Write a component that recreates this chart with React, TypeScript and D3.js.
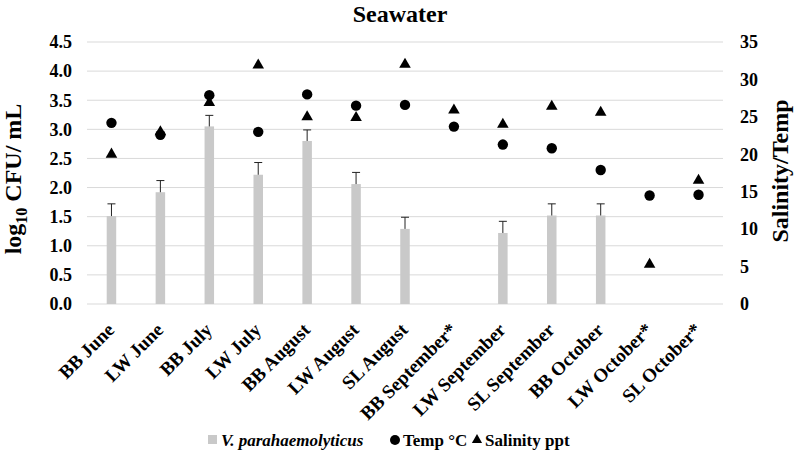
import React from "react";
import * as d3 from "d3";

const categories = [
  "BB June", "LW June", "BB July", "LW July", "BB August", "LW August", "SL August",
  "BB September*", "LW September", "SL September", "BB October", "LW October*", "SL October*",
];
const vpValues: (number | null)[] = [1.51, 1.92, 3.05, 2.22, 2.8, 2.06, 1.29, null, 1.22, 1.52, 1.52, null, null];
const vpErrors: (number | null)[] = [0.21, 0.2, 0.19, 0.21, 0.19, 0.2, 0.2, null, 0.2, 0.2, 0.2, null, null];
const tempValues = [24.2, 22.6, 27.9, 23.0, 28.0, 26.5, 26.6, 23.7, 21.3, 20.8, 17.9, 14.5, 14.6];
const salinityValues = [20.0, 23.0, 26.9, 31.9, 25.0, 24.9, 32.0, 25.9, 24.0, 26.4, 25.6, 5.3, 16.5];
const leftTicks = [0, 0.5, 1, 1.5, 2, 2.5, 3, 3.5, 4, 4.5];
const rightTicks = [0, 5, 10, 15, 20, 25, 30, 35];

const W = 800, H = 461;
const plot = { left: 87, right: 723, top: 42, bottom: 304 };
const FONT = "Liberation Serif";

export default function App() {
  const x = d3.scaleBand<string>().domain(categories).range([plot.left, plot.right]).padding(0);
  const yL = d3.scaleLinear().domain([0, 4.5]).range([plot.bottom, plot.top]);
  const yR = d3.scaleLinear().domain([0, 35]).range([plot.bottom, plot.top]);
  const cx = (c: string) => (x(c) as number) + x.bandwidth() / 2;
  const barW = 9.5;
  const tri = d3.symbol().type(d3.symbolTriangle).size(58)();
  const triSmall = d3.symbol().type(d3.symbolTriangle).size(45)();
  const midY = (plot.top + plot.bottom) / 2;

  return (
    <svg width={W} height={H} style={{ position: "absolute", left: 0, top: 0, background: "#fff", fontFamily: FONT }}>
      <rect width={W} height={H} fill="#fff" />
      <text x={400} y={22} textAnchor="middle" style={{ fontFamily: FONT }} fontWeight="bold" fontSize={24}>Seawater</text>

      {leftTicks.map((t) => (
        <g key={"g" + t}>
          <line x1={plot.left} x2={plot.right} y1={yL(t)} y2={yL(t)} stroke="#d9d9d9" strokeWidth={1} />
          <text x={72} y={yL(t)} dy="0.35em" textAnchor="end" style={{ fontFamily: FONT }} fontWeight="bold" fontSize={18}>{t.toFixed(1)}</text>
        </g>
      ))}
      {rightTicks.map((t) => (
        <text key={"r" + t} x={740} y={yR(t)} dy="0.35em" textAnchor="start" style={{ fontFamily: FONT }} fontWeight="bold" fontSize={18}>{t}</text>
      ))}

      <text transform={`translate(21,${midY + 6}) rotate(-90)`} textAnchor="middle" style={{ fontFamily: FONT }} fontWeight="bold" fontSize={24}>
        log<tspan fontSize={16} dy={6}>10</tspan><tspan dy={-6}>{"  CFU/ mL"}</tspan>
      </text>
      <text transform={`translate(788,${midY - 2}) rotate(-90)`} textAnchor="middle" style={{ fontFamily: FONT }} fontWeight="bold" fontSize={24}>Salinity/Temp</text>

      {categories.map((c, i) =>
        vpValues[i] == null ? null : (
          <g key={"b" + c}>
            <rect x={cx(c) - barW / 2} y={yL(vpValues[i] as number)} width={barW} height={plot.bottom - yL(vpValues[i] as number)} fill="#c9c9c9" />
            <line x1={cx(c)} x2={cx(c)} y1={yL(vpValues[i] as number)} y2={yL((vpValues[i] as number) + (vpErrors[i] as number))} stroke="#222" strokeWidth={1} />
            <line x1={cx(c) - 4} x2={cx(c) + 4} y1={yL((vpValues[i] as number) + (vpErrors[i] as number))} y2={yL((vpValues[i] as number) + (vpErrors[i] as number))} stroke="#222" strokeWidth={1} />
          </g>
        )
      )}

      {categories.map((c, i) => (
        <path key={"s" + c} d={tri as string} transform={`translate(${cx(c)},${yR(salinityValues[i])})`} fill="#000" />
      ))}
      {categories.map((c, i) => (
        <circle key={"t" + c} cx={cx(c)} cy={yR(tempValues[i])} r={5.2} fill="#000" />
      ))}

      {categories.map((c) => (
        <text key={"l" + c} transform={`translate(${cx(c) + 4},${plot.bottom + 27}) rotate(-45)`} textAnchor="end" style={{ fontFamily: FONT }} fontWeight="bold" fontSize={19}>{c}</text>
      ))}

      <g style={{ fontFamily: FONT }} fontWeight="bold" fontSize={17}>
        <rect x={208} y={435} width={9} height={9} fill="#c9c9c9" />
        <text x={221} y={446} fontStyle="italic">V. parahaemolyticus</text>
        <circle cx={395} cy={440} r={5} fill="#000" />
        <text x={403} y={446}>Temp °C</text>
        <path d={triSmall as string} transform={`translate(477,440)`} fill="#000" />
        <text x={485} y={446}>Salinity ppt</text>
      </g>
    </svg>
  );
}
